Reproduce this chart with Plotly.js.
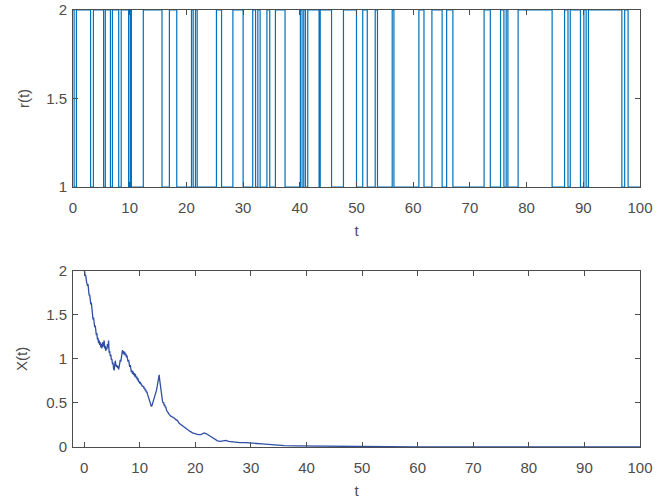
<!DOCTYPE html>
<html>
<head>
<meta charset="utf-8">
<script src="https://cdn.plot.ly/plotly-3.0.1.min.js"></script>
<style>html,body{margin:0;padding:0;background:#fff}#chart{width:668px;height:502px}</style>
</head>
<body>
<div id="chart"></div>
<script>
// Markov chain r(t): switching times and the state held from each time on
var switchTimes = [0, 0.2, 0.6, 3.1, 3.6, 5.4, 5.7, 6.6, 6.95, 8.06, 8.5, 9.8, 10.1, 10.3, 12.4, 15.7, 17.0, 18.3,
  20.9, 21.2, 21.6, 21.9, 25.3, 26.2, 28.2, 30.0, 31.7, 32.2, 32.6, 33.0, 34.2, 34.7, 35.7, 37.4,
  40.1, 40.4, 40.7, 41.0, 41.4, 43.4, 43.6, 45.6, 47.7, 50.0, 51.1, 51.9, 53.3, 53.7, 56.3, 56.6,
  61.0, 61.9, 63.3, 65.1, 65.9, 67.0, 72.5, 73.6, 75.4, 76.0, 76.4, 76.7, 78.5, 84.5, 86.7, 87.3,
  87.7, 89.5, 90.1, 90.5, 90.9, 96.8, 97.3, 97.9, 100];
var states = [2, 1, 2, 1, 2, 1, 2, 1, 2, 1, 2, 1, 2, 1, 2, 1, 2, 1,
  2, 1, 2, 1, 2, 1, 2, 1, 2, 1, 2, 1, 2, 1, 2, 1,
  2, 1, 2, 1, 2, 1, 2, 1, 2, 1, 2, 1, 2, 1, 2, 1,
  2, 1, 2, 1, 2, 1, 2, 1, 2, 1, 2, 1, 2, 1, 2, 1,
  2, 1, 2, 1, 2, 1, 2, 1, 1];

// Solution path X(t)
var tX = [
  0.0, 0.1, 0.2, 0.3, 0.4, 0.5, 0.6, 0.7, 0.8, 0.9,
  1.0, 1.1, 1.2, 1.3, 1.4, 1.5, 1.6, 1.7, 1.8, 1.9,
  2.0, 2.1, 2.2, 2.3, 2.4, 2.5, 2.6, 2.7, 2.8, 2.9,
  3.0, 3.1, 3.2, 3.3, 3.4, 3.5, 3.6, 3.7, 3.8, 3.9,
  4.0, 4.1, 4.2, 4.3, 4.4, 4.5, 4.6, 4.7, 4.8, 4.9,
  5.0, 5.1, 5.2, 5.3, 5.4, 5.5, 5.6, 5.7, 5.8, 5.9,
  6.0, 6.1, 6.2, 6.3, 6.4, 6.5, 6.6, 6.7, 6.8, 6.9,
  7.0, 7.1, 7.2, 7.3, 7.4, 7.5, 7.6, 7.7, 7.8, 7.9,
  8.0, 8.1, 8.2, 8.3, 8.4, 8.5, 8.6, 8.7, 8.8, 8.9,
  9.0, 9.1, 9.2, 9.3, 9.4, 9.5, 9.6, 9.7, 9.8, 9.9,
  10.0, 10.1, 10.2, 10.3, 10.4, 10.5, 10.6, 10.7, 10.8, 10.9,
  11.0, 11.1, 11.2, 11.3, 11.4, 11.5, 11.6, 11.7, 11.8, 11.9,
  12.0, 12.1, 12.2, 12.3, 12.4, 12.5, 12.6, 12.7, 12.8, 12.9,
  13.0, 13.1, 13.2, 13.3, 13.4, 13.5, 13.6, 13.7, 13.8, 13.9,
  14.0, 14.1, 14.2, 14.3, 14.4, 14.5, 14.6, 14.7, 14.8, 14.9,
  15.0, 15.3, 15.6, 15.9, 16.2, 16.5, 16.8, 17.1, 17.5, 18.0,
  18.5, 19.0, 19.5, 20.0, 20.5, 21.0, 21.3, 21.6, 22.0, 22.5,
  23.0, 23.5, 24.0, 24.5, 25.0, 25.5, 26.0, 27, 28, 29,
  30, 31, 32, 33, 34, 35, 36, 38, 40, 42,
  45, 50, 55, 60, 70, 80, 90, 100];
var X = [
  2.00, 1.99, 1.94, 1.95, 1.89, 1.87, 1.83, 1.85, 1.77, 1.72,
  1.73, 1.66, 1.62, 1.64, 1.55, 1.58, 1.45, 1.47, 1.39, 1.36,
  1.38, 1.30, 1.27, 1.29, 1.22, 1.24, 1.18, 1.21, 1.16, 1.19,
  1.13, 1.17, 1.12, 1.19, 1.14, 1.16, 1.21, 1.12, 1.15, 1.09,
  1.13, 1.11, 1.17, 1.13, 1.21, 1.07, 1.09, 1.03, 1.05, 0.99,
  1.00, 0.94, 0.96, 0.89, 0.87, 0.93, 0.98, 0.94, 0.91, 0.93,
  0.90, 0.92, 0.88, 0.91, 0.95, 0.99, 0.97, 1.04, 1.07, 1.10,
  1.06, 1.09, 1.05, 1.08, 1.04, 1.06, 1.02, 1.04, 1.00, 0.97,
  0.99, 0.94, 0.91, 0.93, 0.87, 0.85, 0.87, 0.83, 0.86, 0.82,
  0.84, 0.80, 0.83, 0.81, 0.78, 0.80, 0.76, 0.78, 0.74, 0.75,
  0.72, 0.74, 0.71, 0.72, 0.69, 0.70, 0.68, 0.69, 0.66, 0.67,
  0.64, 0.65, 0.62, 0.63, 0.60, 0.58, 0.56, 0.54, 0.52, 0.50,
  0.48, 0.46, 0.47, 0.49, 0.51, 0.53, 0.55, 0.57, 0.58, 0.61,
  0.64, 0.67, 0.71, 0.75, 0.79, 0.82, 0.76, 0.70, 0.68, 0.62,
  0.58, 0.52, 0.50, 0.51, 0.47, 0.48, 0.45, 0.46, 0.42, 0.41,
  0.39, 0.37, 0.35, 0.34, 0.33, 0.31, 0.30, 0.27, 0.25, 0.22,
  0.20, 0.18, 0.16, 0.15, 0.14, 0.14, 0.15, 0.16, 0.15, 0.13,
  0.11, 0.09, 0.07, 0.065, 0.07, 0.075, 0.065, 0.055, 0.05, 0.05,
  0.048, 0.04, 0.035, 0.03, 0.025, 0.018, 0.015, 0.012, 0.01, 0.008,
  0.006, 0.004, 0.003, 0.002, 0.001, 0.0005, 0.0003, 0.0002];

var xTicks = [0, 10, 20, 30, 40, 50, 60, 70, 80, 90, 100];
var rTicks = [1, 1.5, 2];
var XTicks = [0, 0.5, 1, 1.5, 2];

var font = {family: 'Liberation Sans, Arial, sans-serif', size: 15, color: '#4d4d4d'};
function ax(extra) {
  var base = {showline: true, linecolor: '#4d4d4d', linewidth: 1, mirror: 'ticks', ticks: 'inside',
    ticklen: 5, tickcolor: '#4d4d4d', showgrid: false, zeroline: false, tickfont: font, fixedrange: true};
  for (var k in extra) base[k] = extra[k];
  return base;
}

var traces = [
  {x: switchTimes, y: states, type: 'scatter', mode: 'lines', line: {shape: 'hv', color: '#0072BD', width: 1.2},
   xaxis: 'x', yaxis: 'y', hoverinfo: 'none'},
  {x: tX, y: X, type: 'scatter', mode: 'lines', line: {color: '#2e4fa3', width: 1.3},
   xaxis: 'x2', yaxis: 'y2', hoverinfo: 'none'}
];

var layout = {
  width: 668, height: 502, showlegend: false,
  paper_bgcolor: '#fff', plot_bgcolor: '#fff',
  margin: {l: 73, r: 28, t: 10, b: 55},
  font: font,
  xaxis: ax({domain: [0, 1], anchor: 'y', range: [0, 100], tickvals: xTicks, ticktext: xTicks.map(String),
    ticklabelstandoff: 7, title: {text: 't', font: font, standoff: 10}}),
  yaxis: ax({domain: [0.595, 1], anchor: 'x', range: [1, 2], tickvals: rTicks, ticktext: ['1', '1.5', '2'],
    ticklabelstandoff: 2, title: {text: 'r(t)', font: font, standoff: 12}}),
  xaxis2: ax({domain: [0, 1], anchor: 'y2', range: [-2, 100], tickvals: xTicks, ticktext: xTicks.map(String),
    ticklabelstandoff: 7, title: {text: 't', font: font, standoff: 10}}),
  yaxis2: ax({domain: [0, 0.403], anchor: 'x2', range: [0, 2], tickvals: XTicks, ticktext: ['0', '0.5', '1', '1.5', '2'],
    ticklabelstandoff: 2, title: {text: 'X(t)', font: font, standoff: 14}})
};

Plotly.newPlot('chart', traces, layout, {staticPlot: true, displayModeBar: false});
</script>
</body>
</html>
